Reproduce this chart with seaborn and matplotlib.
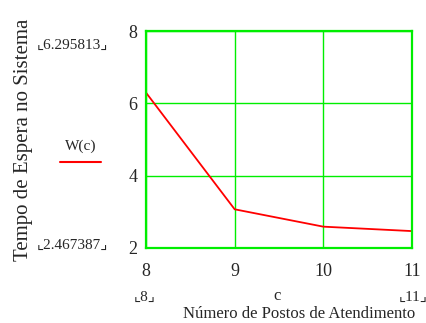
import pandas as pd
import matplotlib
matplotlib.use("Agg")
import matplotlib.pyplot as plt
import seaborn as sns

# data
postos = [8, 9, 10, 11]
tempo_espera = [6.295813, 3.07, 2.59, 2.467387]
x_ticks = [8, 9, 10, 11]
y_ticks = [2, 4, 6, 8]

df = pd.DataFrame({"c": postos, "W": tempo_espera})

sns.set_style("white")
plt.rcParams["font.family"] = ["Liberation Serif", "DejaVu Sans"]

green = "#00ee00"
fig = plt.figure(figsize=(4.26, 3.23), dpi=100)
ax = fig.add_axes([146 / 426, 1 - 248 / 323, 266 / 426, 217 / 323])

sns.lineplot(data=df, x="c", y="W", color="#ff0000", linewidth=1.3, ax=ax)

ax.set_xlim(8, 11)
ax.set_ylim(2, 8)
ax.set_xticks(x_ticks)
ax.set_yticks(y_ticks)
ax.grid(True, color=green, linewidth=1.0)
for s in ax.spines.values():
    s.set_color(green)
    s.set_linewidth(1.6)
ax.tick_params(length=0, labelsize=13, pad=6)
ax.tick_params(axis="x", pad=11)
ax.set_xlabel("")
ax.set_ylabel("")

# Mathcad-style annotations
fig.text(24 / 426, 1 - 140 / 323, "Tempo de Espera no Sistema", rotation=90,
         ha="center", va="center", fontsize=15)
fig.text(72 / 426, 1 - 45 / 323, "⌞6.295813⌟", ha="center", va="center", fontsize=11)
fig.text(72 / 426, 1 - 245 / 323, "⌞2.467387⌟", ha="center", va="center", fontsize=11)
fig.text(81 / 426, 1 - 146 / 323, "W(c)", ha="center", va="center", fontsize=11)
fig.add_artist(plt.Line2D([60 / 426, 101 / 426], [1 - 162 / 323] * 2,
                          color="#ff0000", linewidth=1.5))
fig.text(145 / 426, 1 - 297 / 323, "⌞8⌟", ha="center", va="center", fontsize=11)
fig.text(277 / 426, 1 - 296 / 323, "c", ha="center", va="center", fontsize=12)
fig.text(413 / 426, 1 - 297 / 323, "⌞11⌟", ha="center", va="center", fontsize=11)
fig.text(299 / 426, 1 - 314 / 323, "Número de Postos de Atendimento",
         ha="center", va="center", fontsize=12)

fig.savefig("out.png", dpi=100)
